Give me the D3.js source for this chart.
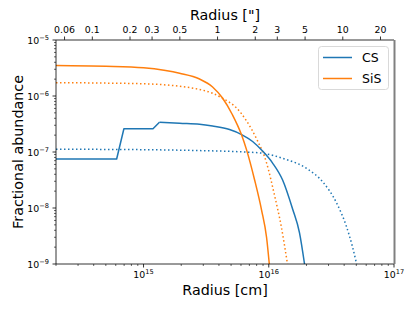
<!DOCTYPE html>
<html lang="en">

<head>
  <meta charset="UTF-8">
  <title>Fractional abundance</title>
  <script src="https://d3js.org/d3.v7.min.js"></script>
  <style>
    body {
      margin: 0;
      background: #fff;
    }

    text {
      font-family: "DejaVu Sans", sans-serif;
      fill: #000;
    }
  </style>
</head>

<body>
  <div class="chartContainer"></div>

  <script>
    // radius [cm] and fractional abundance
    const csModelR = [2e14, 6.1e14, 6.97e14, 1.19e15, 1.34e15, 1.94e15, 2.8e15, 3.56e15, 4.86e15, 6.07e15, 7.43e15, 8.92e15, 1.07e16, 1.29e16, 1.55e16, 1.76e16, 1.93e16]
    const csModelV = [7.5e-8, 7.5e-8, 2.6e-7, 2.6e-7, 3.4e-7, 3.25e-7, 3.13e-7, 2.91e-7, 2.52e-7, 2.05e-7, 1.54e-7, 1.04e-7, 6.4e-8, 3.16e-8, 9.6e-9, 3.6e-9, 1.0e-9]

    const csRefR = [2e14, 1e15, 2.8e15, 5.85e15, 8.92e15, 1.29e16, 2e16, 2.69e16, 3.48e16, 4.18e16, 4.67e16, 5.03e16]
    const csRefV = [1.12e-7, 1.1e-7, 1.06e-7, 1.01e-7, 9.5e-8, 7.7e-8, 5.1e-8, 2.95e-8, 1.23e-8, 4.6e-9, 2.0e-9, 1.0e-9]

    const sisModelR = [2e14, 5e14, 1e15, 1.5e15, 1.94e15, 2.8e15, 3.56e15, 4.27e15, 5.14e15, 6.07e15, 6.65e15, 7.71e15, 8.76e15, 9.6e15, 1.01e16]
    const sisModelV = [3.5e-6, 3.4e-6, 3.2e-6, 2.85e-6, 2.54e-6, 2.01e-6, 1.45e-6, 9.2e-7, 4.58e-7, 2.01e-7, 1.09e-7, 3.16e-8, 9.2e-9, 3.0e-9, 1.0e-9]

    const sisRefR = [2e14, 5e14, 1.12e15, 1.94e15, 2.8e15, 3.56e15, 4.27e15, 5.53e15, 6.65e15, 8.0e15, 9.6e15, 1.11e16, 1.26e16, 1.41e16]
    const sisRefV = [1.73e-6, 1.7e-6, 1.64e-6, 1.49e-6, 1.31e-6, 1.12e-6, 9.1e-7, 6.1e-7, 3.58e-7, 1.71e-7, 6.4e-8, 1.71e-8, 4.6e-9, 1.0e-9]

    const arcsecTicks = [0.06, 0.1, 0.2, 0.3, 0.5, 1, 2, 3, 5, 10, 20]
    const cmPerArcsec = 3.9e15
    const legendNames = ['CS', 'SiS']

    const W = 415, H = 311
    const mLeft = 56, mRight = 394, mTop = 40, mBottom = 264
    const blue = '#1f77b4', orange = '#ff7f0e'

    const svg = d3.select('.chartContainer')
      .append('svg')
      .attr('width', W)
      .attr('height', H)

    const x = d3.scaleLog().domain([2e14, 1e17]).range([mLeft, mRight])
    const y = d3.scaleLog().domain([1e-9, 1e-5]).range([mBottom, mTop])
    const xArc = d3.scaleLog().domain([2e14 / cmPerArcsec, 1e17 / cmPerArcsec]).range([mLeft, mRight])

    svg.append('clipPath').attr('id', 'plotClip')
      .append('rect')
      .attr('x', mLeft).attr('y', mTop)
      .attr('width', mRight - mLeft).attr('height', mBottom - mTop)

    const zip = (rs, vs) => rs.map((r, i) => [r, vs[i]])
    const csModel = zip(csModelR, csModelV)

    // lines (model CS: steps drawn straight, smooth tail after the last step)
    const series = [
      { pts: zip(csRefR, csRefV), color: blue, dash: '1.5,2.5', curve: d3.curveMonotoneX },
      { pts: zip(sisRefR, sisRefV), color: orange, dash: '1.5,2.5', curve: d3.curveMonotoneX },
      { pts: csModel.slice(0, 5), color: blue, dash: null, curve: d3.curveLinear },
      { pts: csModel.slice(4), color: blue, dash: null, curve: d3.curveMonotoneX },
      { pts: zip(sisModelR, sisModelV), color: orange, dash: null, curve: d3.curveMonotoneX }
    ]

    const plot = svg.append('g').attr('clip-path', 'url(#plotClip)')
    series.forEach(s => {
      plot.append('path')
        .attr('d', d3.line().x(d => x(d[0])).y(d => y(d[1])).curve(s.curve)(s.pts))
        .attr('fill', 'none')
        .attr('stroke', s.color)
        .attr('stroke-width', 1.5)
        .attr('stroke-linejoin', 'round')
        .attr('stroke-dasharray', s.dash)
    })

    // superscript tick labels
    function powLabel(sel, exp) {
      sel.append('tspan').text('10')
      sel.append('tspan').text(exp)
        .attr('font-size', 6.6)
        .attr('dy', -4)
    }

    // bottom axis
    const xMajor = [1e15, 1e16, 1e17]
    const xMinor = []
    for (let e = 14; e < 17; e++) {
      for (let m = 2; m < 10; m++) {
        const v = m * Math.pow(10, e)
        if (v >= 2e14 && v <= 1e17) xMinor.push(v)
      }
    }
    const gx = svg.append('g')
    gx.selectAll('.minor').data(xMinor).enter().append('line')
      .attr('x1', d => x(d)).attr('x2', d => x(d))
      .attr('y1', mBottom).attr('y2', mBottom + 2)
      .attr('stroke', '#000').attr('stroke-width', 0.6)
    gx.selectAll('.major').data(xMajor).enter().append('line')
      .attr('x1', d => x(d)).attr('x2', d => x(d))
      .attr('y1', mBottom).attr('y2', mBottom + 3.5)
      .attr('stroke', '#000').attr('stroke-width', 0.8)
    gx.selectAll('text').data(xMajor).enter().append('text')
      .attr('x', d => x(d))
      .attr('y', 278)
      .attr('text-anchor', 'middle')
      .attr('font-size', 9.4)
      .each(function (d) { powLabel(d3.select(this), String(Math.round(Math.log10(d)))) })

    // left axis
    const yMajor = [1e-9, 1e-8, 1e-7, 1e-6, 1e-5]
    const yMinor = []
    for (let e = -9; e < -5; e++) {
      for (let m = 2; m < 10; m++) yMinor.push(m * Math.pow(10, e))
    }
    const gy = svg.append('g')
    gy.selectAll('.minor').data(yMinor).enter().append('line')
      .attr('x1', mLeft - 2).attr('x2', mLeft)
      .attr('y1', d => y(d)).attr('y2', d => y(d))
      .attr('stroke', '#000').attr('stroke-width', 0.6)
    gy.selectAll('.major').data(yMajor).enter().append('line')
      .attr('x1', mLeft - 3.5).attr('x2', mLeft)
      .attr('y1', d => y(d)).attr('y2', d => y(d))
      .attr('stroke', '#000').attr('stroke-width', 0.8)
    gy.selectAll('text').data(yMajor).enter().append('text')
      .attr('x', 49)
      .attr('y', d => y(d) + 3.5)
      .attr('text-anchor', 'end')
      .attr('font-size', 9.4)
      .each(function (d) { powLabel(d3.select(this), '\u2212' + Math.round(-Math.log10(d))) })

    // top axis in arcsec
    const gt = svg.append('g')
    gt.selectAll('line').data(arcsecTicks).enter().append('line')
      .attr('x1', d => xArc(d)).attr('x2', d => xArc(d))
      .attr('y1', mTop).attr('y2', mTop - 3.5)
      .attr('stroke', '#000').attr('stroke-width', 0.8)
    gt.selectAll('text').data(arcsecTicks).enter().append('text')
      .attr('x', d => xArc(d))
      .attr('y', 33)
      .attr('text-anchor', 'middle')
      .attr('font-size', 9.4)
      .text(d => String(d))

    // frame
    svg.append('line').attr('x1', mLeft).attr('x2', mRight).attr('y1', mBottom).attr('y2', mBottom)
      .attr('stroke', '#000').attr('stroke-width', 0.8)
    svg.append('line').attr('x1', mLeft).attr('x2', mLeft).attr('y1', mTop).attr('y2', mBottom)
      .attr('stroke', '#000').attr('stroke-width', 0.8)
    svg.append('line').attr('x1', mLeft).attr('x2', mRight).attr('y1', mTop).attr('y2', mTop)
      .attr('stroke', '#333').attr('stroke-width', 1)
    svg.append('line').attr('x1', mRight + 0.5).attr('x2', mRight + 0.5).attr('y1', mTop).attr('y2', mBottom)
      .attr('stroke', '#808080').attr('stroke-width', 2)

    // axis titles
    svg.append('text')
      .attr('x', (mLeft + mRight) / 2).attr('y', 295)
      .attr('text-anchor', 'middle').attr('font-size', 14.3)
      .text('Radius [cm]')
    svg.append('text')
      .attr('x', (mLeft + mRight) / 2).attr('y', 20)
      .attr('text-anchor', 'middle').attr('font-size', 14.3)
      .text('Radius ["]')
    svg.append('text')
      .attr('transform', `translate(23,${(mTop + mBottom) / 2}) rotate(-90)`)
      .attr('text-anchor', 'middle').attr('font-size', 14.3)
      .text('Fractional abundance')

    // legend
    const lg = svg.append('g')
    lg.append('rect')
      .attr('x', 318.5).attr('y', 46.5)
      .attr('width', 70).attr('height', 43)
      .attr('rx', 3)
      .attr('fill', '#fff').attr('fill-opacity', 0.8)
      .attr('stroke', '#d9d9d9').attr('stroke-width', 1)
    legendNames.forEach((name, i) => {
      const ly = 57.5 + i * 21
      lg.append('line')
        .attr('x1', 323).attr('x2', 352)
        .attr('y1', ly).attr('y2', ly)
        .attr('stroke', i === 0 ? blue : orange).attr('stroke-width', 1.5)
      lg.append('text')
        .attr('x', 362).attr('y', ly + 4.5)
        .attr('font-size', 12.5)
        .text(name)
    })
  </script>
</body>

</html>
